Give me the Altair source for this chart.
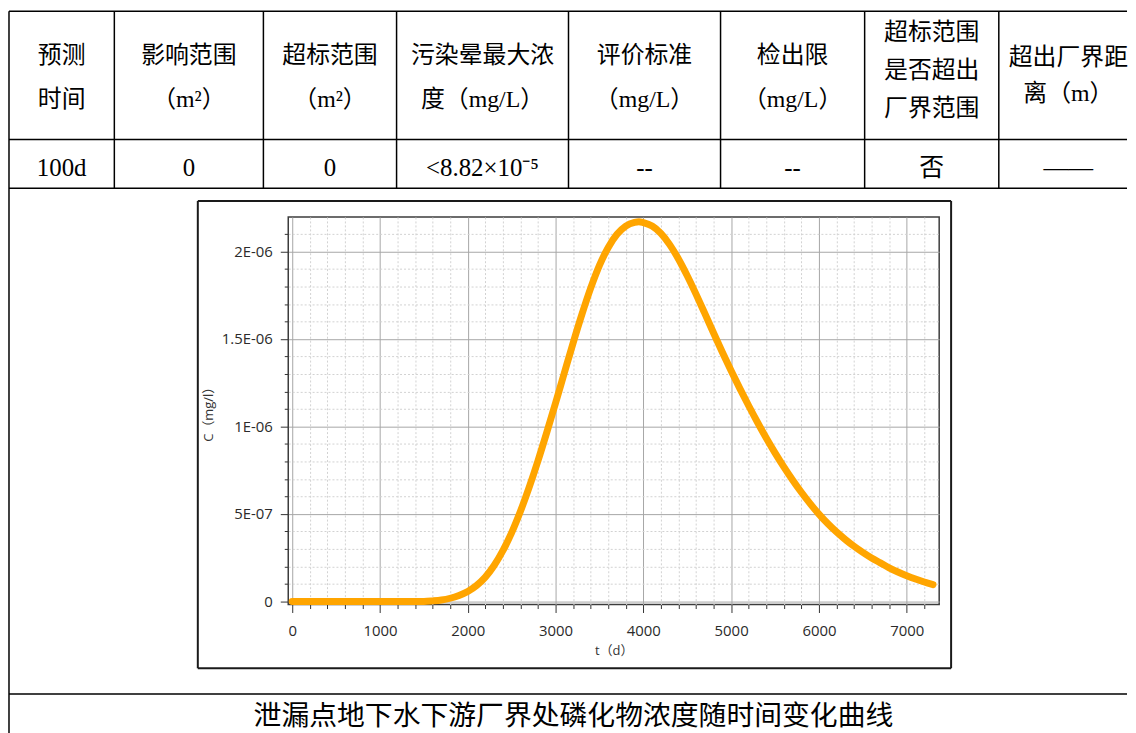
import altair as alt
import pandas as pd

# ---------------- data ----------------
T_DAYS = [0, 400, 800, 1200, 1500, 1600, 1700, 1800, 1900, 2000, 2100, 2200, 2300,
          2400, 2500, 2600, 2700, 2800, 2900, 3000, 3100, 3200, 3300, 3400, 3500,
          3600, 3700, 3800, 3900, 3950, 4000, 4100, 4200, 4300, 4400, 4500, 4600,
          4700, 4800, 4900, 5000, 5100, 5200, 5300, 5400, 5500, 5600, 5700, 5800,
          5900, 6000, 6100, 6200, 6300, 6400, 6500, 6600, 6700, 6800, 6900, 7000,
          7100, 7200, 7300]
C_MGL = [0, 0, 0, 0, 0, 0.03e-7, 0.08e-7, 0.18e-7, 0.34e-7, 0.57e-7, 0.91e-7, 1.39e-7,
         2.05e-7, 2.90e-7, 3.93e-7, 5.15e-7, 6.53e-7, 8.04e-7, 9.66e-7, 11.34e-7,
         13.06e-7, 14.77e-7, 16.40e-7, 17.90e-7, 19.20e-7, 20.23e-7, 20.98e-7,
         21.45e-7, 21.66e-7, 21.70e-7, 21.65e-7, 21.45e-7, 21.03e-7, 20.39e-7,
         19.57e-7, 18.61e-7, 17.56e-7, 16.46e-7, 15.34e-7, 14.24e-7, 13.18e-7,
         12.16e-7, 11.18e-7, 10.24e-7, 9.34e-7, 8.49e-7, 7.69e-7, 6.94e-7, 6.24e-7,
         5.59e-7, 4.99e-7, 4.45e-7, 3.97e-7, 3.54e-7, 3.15e-7, 2.80e-7, 2.48e-7,
         2.20e-7, 1.92e-7, 1.68e-7, 1.47e-7, 1.28e-7, 1.11e-7, 0.96e-7]

HEADER_LINES = [
    ["预测", "时间"],
    ["影响范围", "（m²）"],
    ["超标范围", "（m²）"],
    ["污染晕最大浓", "度（mg/L）"],
    ["评价标准", "（mg/L）"],
    ["检出限", "（mg/L）"],
    ["超标范围", "是否超出", "厂界范围"],
    ["超出厂界距", "离（m）"],
]
ROW_VALUES = ["100d", "0", "0", "<8.82×10⁻⁵", "--", "--", "否", "——"]
CAPTION = "泄漏点地下水下游厂界处磷化物浓度随时间变化曲线"

X_TICKS = [0, 1000, 2000, 3000, 4000, 5000, 6000, 7000]
X_MINOR = [200, 400, 600, 800, 1200, 1400, 1600, 1800, 2200, 2400, 2600, 2800,
           3200, 3400, 3600, 3800, 4200, 4400, 4600, 4800, 5200, 5400, 5600, 5800,
           6200, 6400, 6600, 6800, 7200]
Y_TICKS = [0, 5e-7, 1e-6, 1.5e-6, 2e-6]
Y_TICK_LABELS = ["0", "5E-07", "1E-06", "1.5E-06", "2E-06"]
Y_MINOR = [1e-7, 2e-7, 3e-7, 4e-7, 6e-7, 7e-7, 8e-7, 9e-7, 1.1e-6, 1.2e-6, 1.3e-6,
           1.4e-6, 1.6e-6, 1.7e-6, 1.8e-6, 1.9e-6, 2.1e-6]

# ---------------- layout (reference page pixels) ----------------
OX, OY = 287, 213            # plot-area origin
PLOT_W, PLOT_H = 655, 390
COL_EDGES = [6, 112, 262, 396, 569, 722, 867, 1002, 1142]
LINE_END = 1131
ROW_EDGES = [6, 135, 184]
CAPTION_RULE = 693
LEFT_BOTTOM = 733
BOX = [196, 197, 954, 667]
HEADER_Y = [[51, 95]] * 6 + [[28, 66, 104], [53, 89]]
ROW_Y = 164
CAPTION_Y = 716

curve = pd.DataFrame({"t": T_DAYS, "c": C_MGL})

# table rules
segs = []
for y in ROW_EDGES + [CAPTION_RULE]:
    segs.append((COL_EDGES[0], y, LINE_END, y))
for i, x in enumerate(COL_EDGES[:-1]):
    segs.append((x, ROW_EDGES[0], x, LEFT_BOTTOM if i == 0 else ROW_EDGES[-1]))
table_rules = pd.DataFrame(
    [{"x": a - OX, "y": b - OY, "x2": c - OX, "y2": d - OY} for a, b, c, d in segs])

bx1, by1, bx2, by2 = BOX
box_segs = [(bx1, by1, bx2, by1), (bx2, by1, bx2, by2), (bx2, by2, bx1, by2), (bx1, by2, bx1, by1)]
box_rules = pd.DataFrame(
    [{"x": a - OX, "y": b - OY, "x2": c - OX, "y2": d - OY} for a, b, c, d in box_segs])

hdr_rows = []
for i, lines in enumerate(HEADER_LINES):
    cx = (COL_EDGES[i] + COL_EDGES[i + 1]) / 2
    for j, s in enumerate(lines):
        hdr_rows.append({"px": cx - OX, "py": HEADER_Y[i][j] - OY, "label": s})
hdr = pd.DataFrame(hdr_rows)

val = pd.DataFrame([{"px": (COL_EDGES[i] + COL_EDGES[i + 1]) / 2 - OX,
                     "py": ROW_Y - OY, "label": s} for i, s in enumerate(ROW_VALUES)])
cap = pd.DataFrame([{"px": (COL_EDGES[0] + COL_EDGES[-1]) / 2 - OX,
                     "py": CAPTION_Y - OY, "label": CAPTION}])

label_expr = " : ".join(
    f"abs(datum.value - ({v})) < 1e-12 ? '{s}'" for v, s in zip(Y_TICKS, Y_TICK_LABELS)) + " : ''"

sx = alt.Scale(domain=[-45, 7370], nice=False, zero=False)
sy = alt.Scale(domain=[-1.8e-8, 2.197e-6], nice=False, zero=False)
AX_FONT = "Open Sans, Noto Sans CJK SC"

minor = alt.Chart(curve).mark_line(opacity=0).encode(
    x=alt.X("t:Q", scale=sx, axis=alt.Axis(
        orient="bottom", values=X_MINOR, labels=False, tickSize=4, tickColor="#333",
        domain=False, grid=True, gridColor="#d2d2d2", gridDash=[2, 2], title=None)),
    y=alt.Y("c:Q", scale=sy, axis=alt.Axis(
        orient="left", values=Y_MINOR, labels=False, tickSize=4, tickColor="#333",
        domain=False, grid=True, gridColor="#d2d2d2", gridDash=[2, 2], title=None)),
)

line = alt.Chart(curve).mark_line(
    color="#FFA500", strokeWidth=7, interpolate="monotone", strokeCap="round", strokeJoin="round"
).encode(
    x=alt.X("t:Q", scale=sx, axis=alt.Axis(
        orient="bottom", values=X_TICKS, format="d", tickSize=8, tickColor="#333",
        domain=False, grid=True, gridColor="#a6a6a6", labelFont=AX_FONT, labelFontSize=15,
        labelColor="#2b2b2b", labelPadding=11, title="t（d）", titleFont=AX_FONT,
        titleFontSize=13, titleFontWeight="normal", titleColor="#333", titlePadding=6)),
    y=alt.Y("c:Q", scale=sy, axis=alt.Axis(
        orient="left", values=Y_TICKS, labelExpr=label_expr, tickSize=8, tickColor="#333",
        domain=False, grid=True, gridColor="#a6a6a6", labelFont=AX_FONT, labelFontSize=15,
        labelColor="#2b2b2b", labelPadding=8, title="C（mg/l）", titleFont=AX_FONT,
        titleFontSize=13, titleFontWeight="normal", titleColor="#333", titlePadding=6)),
)


def rule_layer(df, color, width):
    return alt.Chart(df).mark_rule(color=color, strokeWidth=width).encode(
        x=alt.X("x:Q", scale=None, axis=None), x2="x2:Q",
        y=alt.Y("y:Q", scale=None, axis=None), y2="y2:Q")


def text_layer(df, size):
    return alt.Chart(df).mark_text(
        font="Liberation Serif, Noto Sans CJK SC", fontSize=size, color="black",
        align="center", baseline="middle"
    ).encode(
        x=alt.X("px:Q", scale=None, axis=None),
        y=alt.Y("py:Q", scale=None, axis=None),
        text="label:N")


chart = alt.layer(
    minor, line,
    rule_layer(table_rules, "black", 1.5),
    rule_layer(box_rules, "#1a1a1a", 2),
    text_layer(hdr, 24), text_layer(val, 25), text_layer(cap, 28),
).resolve_axis(x="independent", y="independent").properties(
    width=PLOT_W, height=PLOT_H, padding=0
).configure_view(stroke="#3c3c3c", strokeWidth=1.5)

chart.save("out.html", embed_options={"renderer": "svg", "actions": False})
